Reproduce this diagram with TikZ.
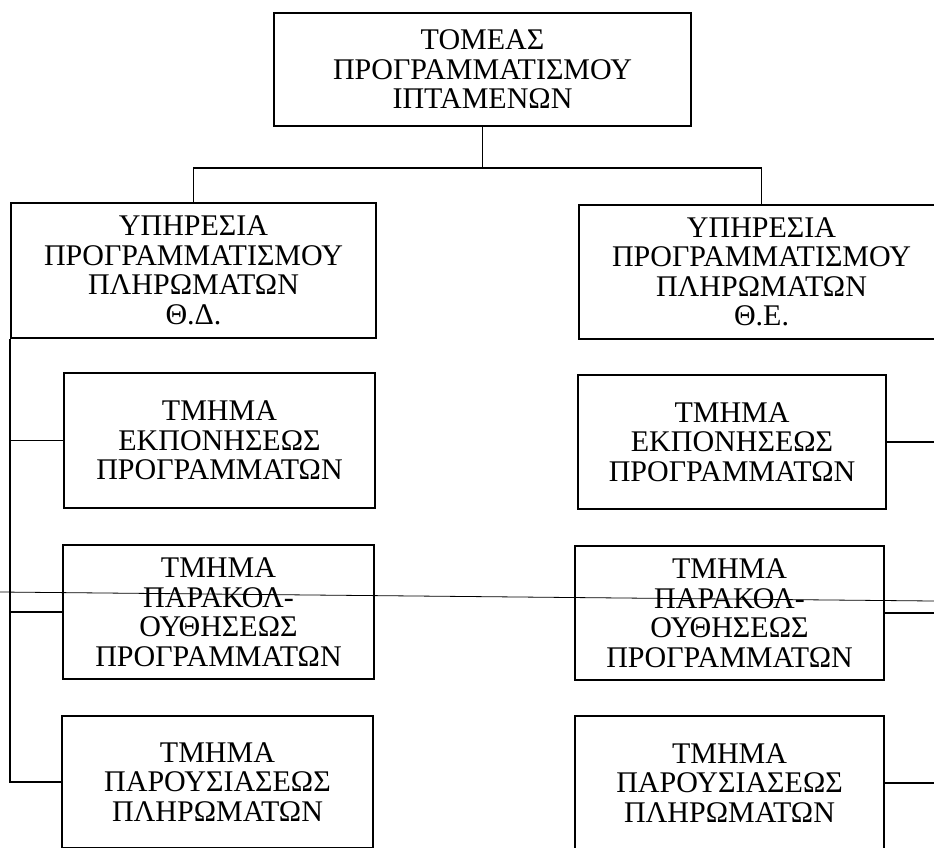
\documentclass[tikz,border=0pt]{standalone}
\usepackage{fontspec}
\setmainfont{Liberation Serif}
\usepackage{tikz}
\usetikzlibrary{calc}

\tikzset{
  box/.style={draw,line width=1.9pt,align=center,inner sep=0pt,
    font=\fontsize{30}{29.5}\selectfont},
  link/.style={line width=1.4pt}
}

\begin{document}
\begin{tikzpicture}[x=1pt,y=-1pt]
		\useasboundingbox (0,0) rectangle (934,847);
		
		\node[box,minimum width=417pt,minimum height=113pt](tomeas)at(482.5,69.5) {ΤΟΜΕΑΣ\\ΠΡΟΓΡΑΜΜΑΤΙΣΜΟΥ\\ΙΠΤΑΜΕΝΩΝ};
		\node[box,minimum width=365pt,minimum height=135pt](ypd)at(193.5,270.5) {ΥΠΗΡΕΣΙΑ\\ΠΡΟΓΡΑΜΜΑΤΙΣΜΟΥ\\ΠΛΗΡΩΜΑΤΩΝ\\Θ.Δ.};
		\node[box,minimum width=365pt,minimum height=134pt](ype)at(761.5,272) {ΥΠΗΡΕΣΙΑ\\ΠΡΟΓΡΑΜΜΑΤΙΣΜΟΥ\\ΠΛΗΡΩΜΑΤΩΝ\\Θ.Ε.};
		
		\node[box,minimum width=311pt,minimum height=135pt](d1)at(219.5,440.5) {ΤΜΗΜΑ\\ΕΚΠΟΝΗΣΕΩΣ\\ΠΡΟΓΡΑΜΜΑΤΩΝ};
		\node[box,minimum width=311pt,minimum height=134pt](d2)at(218.5,612) {ΤΜΗΜΑ\\ΠΑΡΑΚΟΛ-\\ΟΥΘΗΣΕΩΣ\\ΠΡΟΓΡΑΜΜΑΤΩΝ};
		\node[box,minimum width=311pt,minimum height=132pt](d3)at(217.5,782) {ΤΜΗΜΑ\\ΠΑΡΟΥΣΙΑΣΕΩΣ\\ΠΛΗΡΩΜΑΤΩΝ};
		
		\node[box,minimum width=308pt,minimum height=134pt](e1)at(732,442) {ΤΜΗΜΑ\\ΕΚΠΟΝΗΣΕΩΣ\\ΠΡΟΓΡΑΜΜΑΤΩΝ};
		\node[box,minimum width=309pt,minimum height=134pt](e2)at(729.5,613) {ΤΜΗΜΑ\\ΠΑΡΑΚΟΛ-\\ΟΥΘΗΣΕΩΣ\\ΠΡΟΓΡΑΜΜΑΤΩΝ};
		\node[box,minimum width=309pt,minimum height=134pt](e3)at(729.5,783) {ΤΜΗΜΑ\\ΠΑΡΟΥΣΙΑΣΕΩΣ\\ΠΛΗΡΩΜΑΤΩΝ};
		
		\draw[link](tomeas.south) -- ++(0,41) -| (ypd.north);
		\draw[link](tomeas.south) -- ++(0,41) -| (ype.north);
		
		\draw[link](ypd.south west) |- (d3.west);
		\draw[link](ypd.south west |- d1.west) -- (d1.west);
		\draw[link](ypd.south west |- d2.west) -- (d2.west);
		
		\draw[link](ype.south east) |- (e3.east);
		\draw[link](ype.south east |- e1.east) -- (e1.east);
		\draw[link](ype.south east |- e2.east) -- (e2.east);
		
		\coordinate(scanl)at(0,592);
		\coordinate(scanr)at(934,601);
		\draw[line width=0.8pt](scanl) -- (scanr);
	\end{tikzpicture}
\end{document}
